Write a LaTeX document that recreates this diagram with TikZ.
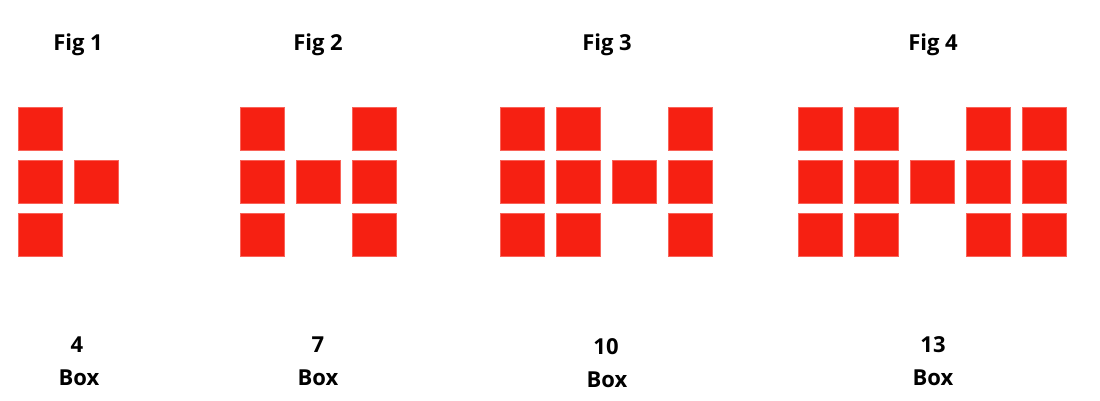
\documentclass[tikz,border=0pt]{standalone}
\usepackage{fontspec}
\setmainfont{Open Sans}
\usepackage{xcolor}
\usetikzlibrary{positioning}
\definecolor{boxred}{RGB}{246,32,18}

\begin{document}
\begin{tikzpicture}[x=1pt,y=-1pt]
\tikzstyle{cell}=[rectangle,fill=boxred,draw=boxred!70!white,line width=0.4pt,minimum width=44pt,minimum height=43pt,inner sep=0pt]
\tikzstyle{lbl}=[font=\fontsize{22}{26}\selectfont\bfseries,inner sep=0pt,anchor=base]
\useasboundingbox (0,0) rectangle (1100,400);
% titles
\node[lbl] (t1) at (78,50) {Fig 1};
\node[lbl] (t2) at (318,50) {Fig 2};
\node[lbl] (t3) at (607,50) {Fig 3};
\node[lbl] (t4) at (933,50) {Fig 4};
% fig 1
\foreach \c/\r in {0/0,0/1,0/2,1/1}
  \node[cell] (a\c\r) at (40.5+56*\c,128.5+53*\r) {};
% fig 2
\foreach \c/\r in {0/0,0/1,0/2,1/1,2/0,2/1,2/2}
  \node[cell] (b\c\r) at (262.5+56*\c,128.5+53*\r) {};
% fig 3
\foreach \c/\r in {0/0,0/1,0/2,1/0,1/1,1/2,2/1,3/0,3/1,3/2}
  \node[cell] (c\c\r) at (522.5+56*\c,128.5+53*\r) {};
% fig 4
\foreach \c/\r in {0/0,0/1,0/2,1/0,1/1,1/2,2/1,3/0,3/1,3/2,4/0,4/1,4/2}
  \node[cell] (d\c\r) at (820.5+56*\c,128.5+53*\r) {};
% counts
\node[lbl] (n1) at (77,352) {4};
\node[lbl] (n2) at (318,352) {7};
\node[lbl] (n3) at (606,354) {10};
\node[lbl] (n4) at (933,352) {13};
\node[lbl] (w1) at (79,385) {Box};
\node[lbl] (w2) at (318,385) {Box};
\node[lbl] (w3) at (607,387) {Box};
\node[lbl] (w4) at (933,385) {Box};
\end{tikzpicture}
\end{document}
